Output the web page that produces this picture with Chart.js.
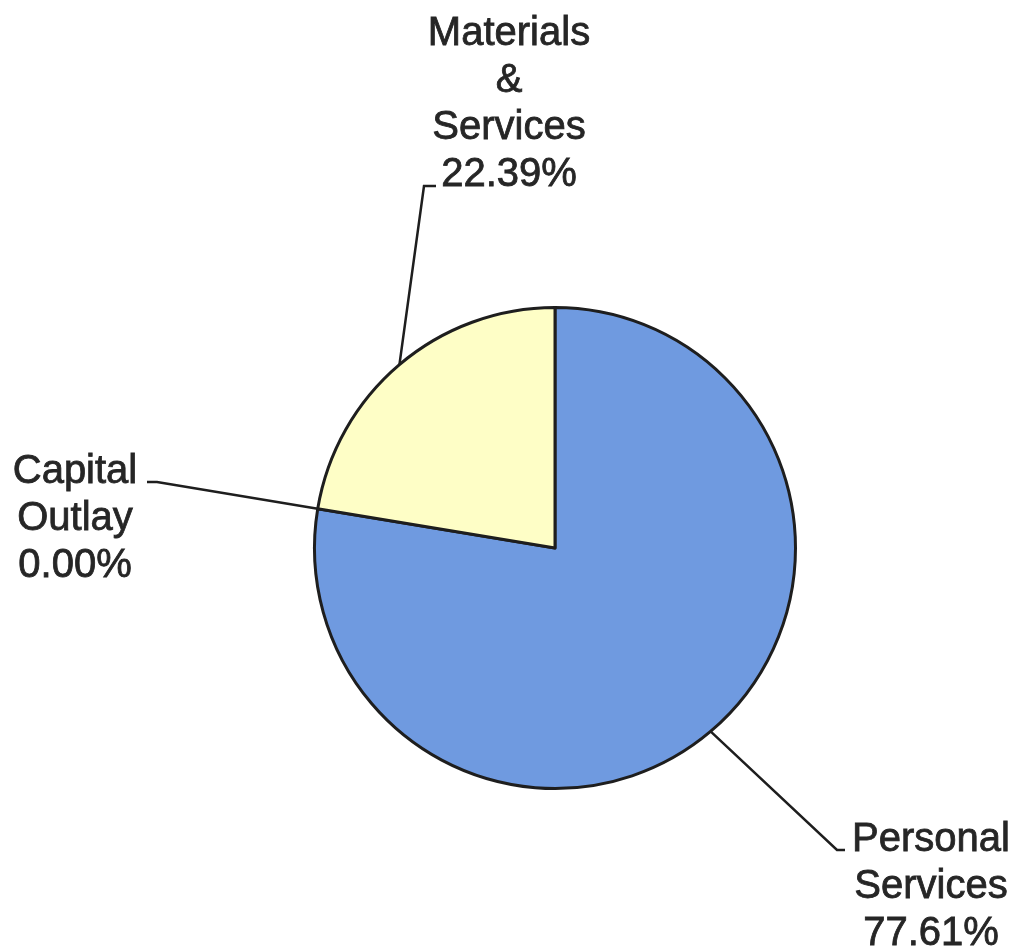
<!DOCTYPE html>
<html>
<head>
<meta charset="utf-8">
<script src="https://cdn.jsdelivr.net/npm/chart.js@4/dist/chart.umd.min.js"></script>
<style>
  html, body { margin: 0; padding: 0; background: #fff; }
  canvas { display: block; }
</style>
</head>
<body>
<canvas id="budget-pie" width="1018" height="950"></canvas>
<script>
// budget split by category
const categories = ['Personal Services', 'Capital Outlay', 'Materials & Services'];
const labelLines = [['Personal', 'Services'], ['Capital', 'Outlay'], ['Materials', '&', 'Services']];
const shares = [77.61, 0.00, 22.39];
const sliceColors = ['#6f9ae0', '#6f9ae0', '#fefec6'];

// where each callout bends and where its text sits, relative to the pie centre
const callouts = [
    { elbow: [282, 302], tick: 8, textX: 376, anchor: 'first' },
    { elbow: [-398, -66], tick: -10, textX: -480, anchor: 'first' },
    { elbow: [-131, -362], tick: 12, textX: -46, anchor: 'last' }
];

const calloutPlugin = {
    id: 'callouts',
    afterDatasetsDraw(chart) {
        const ctx = chart.ctx;
        const meta = chart.getDatasetMeta(0);
        const lineHeight = 47;
        ctx.save();
        ctx.font = '40px "Liberation Sans", Arial, sans-serif';
        ctx.textAlign = 'center';
        ctx.textBaseline = 'alphabetic';

        meta.data.forEach(function (arc, i) {
            const c = callouts[i];
            const p = arc.getProps(['x', 'y', 'startAngle', 'endAngle', 'outerRadius'], true);
            const mid = (p.startAngle + p.endAngle) / 2;
            const sx = p.x + Math.cos(mid) * p.outerRadius;
            const sy = p.y + Math.sin(mid) * p.outerRadius;
            const ex = p.x + c.elbow[0];
            const ey = p.y + c.elbow[1];

            ctx.strokeStyle = '#1e1e1e';
            ctx.lineWidth = 2.5;
            ctx.beginPath();
            ctx.moveTo(sx, sy);
            ctx.lineTo(ex, ey);
            ctx.lineTo(ex + c.tick, ey);
            ctx.stroke();

            // a thin outline on the glyphs gives the heavier print weight
            ctx.fillStyle = '#262626';
            ctx.strokeStyle = '#262626';
            ctx.lineWidth = 0.8;
            const lines = labelLines[i].concat([shares[i].toFixed(2) + '%']);
            let y0 = ey + 1;
            if (c.anchor === 'last') y0 = ey - (lines.length - 1) * lineHeight;
            lines.forEach(function (txt, k) {
                const tx = p.x + c.textX;
                const ty = y0 + k * lineHeight;
                ctx.fillText(txt, tx, ty);
                ctx.strokeText(txt, tx, ty);
            });
        });
        ctx.restore();
    }
};

new Chart(document.getElementById('budget-pie').getContext('2d'), {
    type: 'pie',
    data: {
        labels: categories,
        datasets: [{
            data: shares,
            backgroundColor: sliceColors,
            borderColor: '#1e1e1e',
            borderWidth: 3,
            borderJoinStyle: 'round'
        }]
    },
    options: {
        responsive: false,
        devicePixelRatio: 1,
        animation: false,
        layout: {
            padding: { left: 313, right: 221, top: 306, bottom: 160 }
        },
        plugins: {
            legend: { display: false },
            tooltip: { enabled: false }
        }
    },
    plugins: [calloutPlugin]
});
</script>
</body>
</html>
